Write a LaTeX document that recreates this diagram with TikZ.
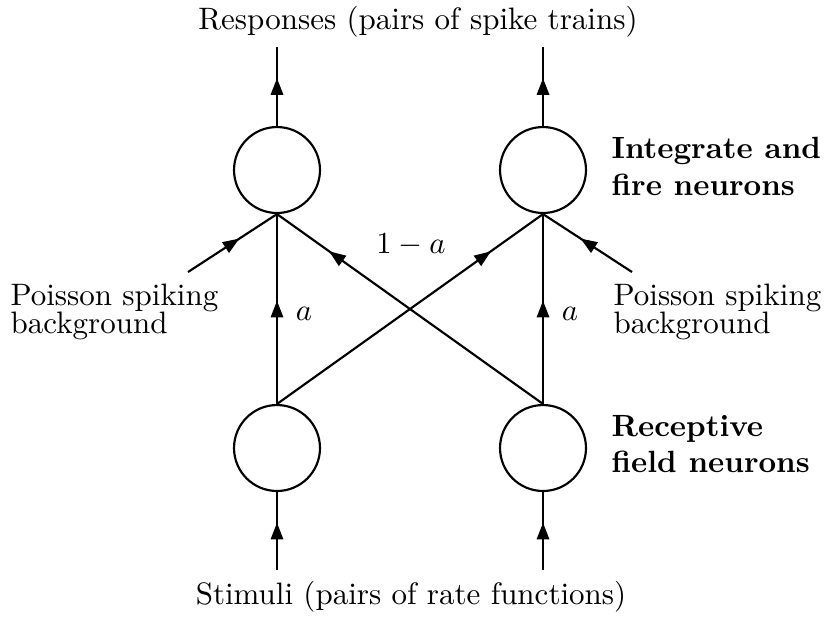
\documentclass[tikz,border=0pt]{standalone}
\usetikzlibrary{arrows.meta,decorations.markings}
\begin{document}
\begin{tikzpicture}[x=0.3257pt,y=-0.3257pt,
  neuron/.style={circle,draw,line width=0.7pt,minimum size=28pt,inner sep=0pt},
  conn/.style={line width=0.7pt},
  midarrow/.style={conn,postaction={decorate},decoration={markings,
    mark=at position #1 with {\arrow[xshift=2.7pt]{Triangle[length=5.4pt,width=4pt]}}}},
  midarrow/.default=0.5,
  lbl/.style={inner sep=0pt,font=\fontsize{10.1}{12}\selectfont},
  blbl/.style={inner sep=0pt,align=left,anchor=west,font=\fontsize{10}{12}\selectfont\bfseries}]
\useasboundingbox (0,0) rectangle (824,617);
\node[neuron] (t1) at (277,170) {};
\node[neuron] (t2) at (543,170) {};
\node[neuron] (b1) at (277,448) {};
\node[neuron] (b2) at (543,448) {};
\coordinate (o1) at (277,47);
\coordinate (o2) at (543,47);
\coordinate (i1) at (277,570);
\coordinate (i2) at (543,570);
\coordinate (p1) at (188,272);
\coordinate (p2) at (632,272);
\draw[midarrow] (t1.north) -- (o1);
\draw[midarrow] (t2.north) -- (o2);
\draw[midarrow] (i1) -- (b1.south);
\draw[midarrow] (i2) -- (b2.south);
\draw[midarrow] (b1.north) -- (t1.south);
\draw[midarrow] (b2.north) -- (t2.south);
\draw[midarrow=0.78] (b1.north) -- (t2.south);
\draw[midarrow=0.78] (b2.north) -- (t1.south);
\draw[midarrow] (p1) -- (t1.south);
\draw[midarrow] (p2) -- (t2.south);
\node[lbl] (resp) at (418,22) {Responses (pairs of spike trains)};
\node[lbl] (stim) at (411,597) {Stimuli (pairs of rate functions)};
\node[lbl,anchor=west,align=left] (pl) at (10,312) {Poisson spiking\\[-2.8pt]background};
\node[lbl,anchor=west,align=left] (pr) at (613,312) {Poisson spiking\\[-2.8pt]background};
\node[blbl] (ifn) at (611,166) {Integrate and\\fire neurons};
\node[blbl] (rfn) at (611,444) {Receptive\\field neurons};
\node[lbl] (a1) at (304,314) {$a$};
\node[lbl] (a2) at (570,314) {$a$};
\node[lbl] (oma) at (411,245) {$1-a$};
\end{tikzpicture}
\end{document}
